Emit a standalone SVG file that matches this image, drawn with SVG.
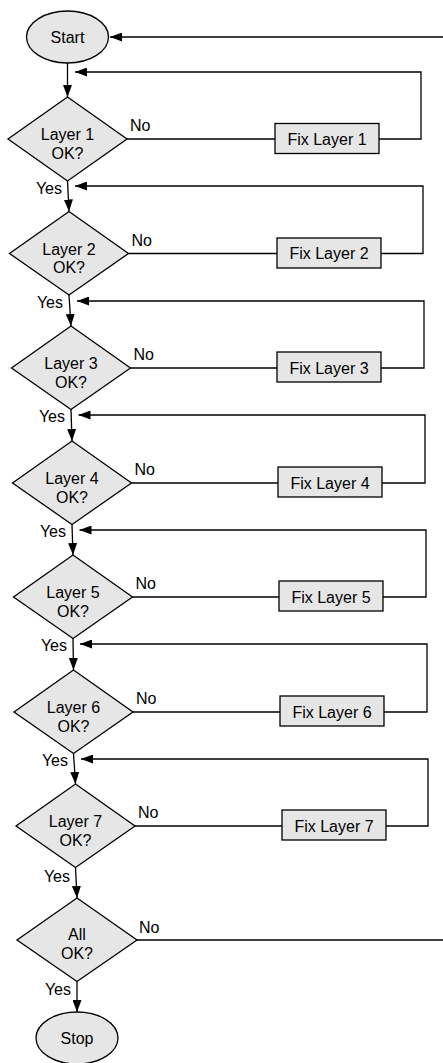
<svg xmlns="http://www.w3.org/2000/svg" width="443" height="1063" viewBox="0 0 443 1063">
<defs>
<marker id="ah" markerUnits="userSpaceOnUse" markerWidth="12" markerHeight="9" refX="12" refY="4.5" orient="auto">
<path d="M0,0 L12,4.5 L0,9 Z" fill="#000"/>
</marker>
<style>
.sh{fill:#e6e6e6;stroke:#000;stroke-width:1.3}
.ln{fill:none;stroke:#000;stroke-width:1.3}
.ar{fill:none;stroke:#000;stroke-width:1.3;marker-end:url(#ah)}
text{font-family:"Liberation Sans",Arial,Helvetica,sans-serif;font-size:16px;fill:#000}
.c{text-anchor:middle}
.e{text-anchor:end}
</style>
</defs>
<rect width="443" height="1063" fill="#fff"/>
<g id="connectors">
<path class="ar" d="M443,37 L110,37"/>
<path class="ln" d="M137,940 L443,940"/>
<path class="ar" d="M67.5,63 L67.5,97"/>
<path class="ar" d="M67.5,181 L69,211.5"/>
<path class="ar" d="M69,295 L71,326"/>
<path class="ar" d="M71,409.5 L72,441"/>
<path class="ar" d="M72,524.5 L73,555"/>
<path class="ar" d="M73,638.5 L73.5,670"/>
<path class="ar" d="M73.5,753.5 L75.5,784"/>
<path class="ar" d="M75.5,867.5 L77,898"/>
<path class="ar" d="M77,981.5 L77,1012"/>
<path class="ln" d="M127,139 L275,139"/>
<path class="ln" d="M128.5,253.5 L277,253.5"/>
<path class="ln" d="M130.5,368 L277,368"/>
<path class="ln" d="M131.5,483 L278,483"/>
<path class="ln" d="M132.5,597 L279,597"/>
<path class="ln" d="M133,712 L280,712"/>
<path class="ln" d="M135,826 L282,826"/>
<path class="ar" d="M379,139 L421,139 L421,72 L75,72"/>
<path class="ar" d="M381,253.5 L423,253.5 L423,186 L75,186"/>
<path class="ar" d="M381,368 L424,368 L424,301 L77,301"/>
<path class="ar" d="M382,483 L425,483 L425,415 L78.5,415"/>
<path class="ar" d="M383,597 L426,597 L426,530 L79.5,530"/>
<path class="ar" d="M384,712 L427,712 L427,644 L80,644"/>
<path class="ar" d="M386,826 L428,826 L428,759 L81,759"/>
<text x="130" y="131">No</text>
<text x="131.5" y="245.5">No</text>
<text x="133.5" y="360">No</text>
<text x="134.5" y="475">No</text>
<text x="135.5" y="589">No</text>
<text x="136" y="704">No</text>
<text x="138" y="818">No</text>
<text x="139" y="933">No</text>
<text class="e" x="62" y="194">Yes</text>
<text class="e" x="63" y="308">Yes</text>
<text class="e" x="65" y="422">Yes</text>
<text class="e" x="66" y="537">Yes</text>
<text class="e" x="67" y="651">Yes</text>
<text class="e" x="68" y="766">Yes</text>
<text class="e" x="70" y="882">Yes</text>
<text class="e" x="71" y="995">Yes</text>
</g>
<g id="start">
<ellipse class="sh" cx="67.5" cy="37" rx="41" ry="26"/>
<text class="c" x="67.5" y="42.5">Start</text>
</g>
<g id="layer1">
<path class="sh" d="M67.5,97 L127,139 L67.5,181 L8,139 Z"/>
<text class="c" x="67.5" y="140">Layer 1</text>
<text class="c" x="67.5" y="158.5">OK?</text>
</g>
<g id="fix1">
<rect class="sh" x="275" y="123.5" width="104" height="30"/>
<text class="c" x="327" y="144.5">Fix Layer 1</text>
</g>
<g id="layer2">
<path class="sh" d="M69,211.5 L128.5,253.5 L69,295 L9.5,253.5 Z"/>
<text class="c" x="69" y="254.5">Layer 2</text>
<text class="c" x="69" y="273">OK?</text>
</g>
<g id="fix2">
<rect class="sh" x="277" y="238" width="104" height="30"/>
<text class="c" x="329" y="259">Fix Layer 2</text>
</g>
<g id="layer3">
<path class="sh" d="M71,326 L130.5,368 L71,409.5 L11.5,368 Z"/>
<text class="c" x="71" y="369">Layer 3</text>
<text class="c" x="71" y="387.5">OK?</text>
</g>
<g id="fix3">
<rect class="sh" x="277" y="352" width="104" height="30"/>
<text class="c" x="329" y="373.5">Fix Layer 3</text>
</g>
<g id="layer4">
<path class="sh" d="M72,441 L131.5,483 L72,524.5 L12.5,483 Z"/>
<text class="c" x="72" y="484">Layer 4</text>
<text class="c" x="72" y="502.5">OK?</text>
</g>
<g id="fix4">
<rect class="sh" x="278" y="467" width="104" height="30"/>
<text class="c" x="330" y="488.5">Fix Layer 4</text>
</g>
<g id="layer5">
<path class="sh" d="M73,555 L132.5,597 L73,638.5 L13.5,597 Z"/>
<text class="c" x="73" y="598">Layer 5</text>
<text class="c" x="73" y="616.5">OK?</text>
</g>
<g id="fix5">
<rect class="sh" x="279" y="581" width="104" height="30"/>
<text class="c" x="331" y="602.5">Fix Layer 5</text>
</g>
<g id="layer6">
<path class="sh" d="M73.5,670 L133,712 L73.5,753.5 L14,712 Z"/>
<text class="c" x="73.5" y="713">Layer 6</text>
<text class="c" x="73.5" y="731.5">OK?</text>
</g>
<g id="fix6">
<rect class="sh" x="280" y="696" width="104" height="30"/>
<text class="c" x="332" y="717.5">Fix Layer 6</text>
</g>
<g id="layer7">
<path class="sh" d="M75.5,784 L135,826 L75.5,867.5 L16,826 Z"/>
<text class="c" x="75.5" y="827">Layer 7</text>
<text class="c" x="75.5" y="845.5">OK?</text>
</g>
<g id="fix7">
<rect class="sh" x="282" y="810" width="104" height="30"/>
<text class="c" x="334" y="831.5">Fix Layer 7</text>
</g>
<g id="allok">
<path class="sh" d="M77,898 L137,940 L77,981.5 L17,940 Z"/>
<text class="c" x="77" y="940">All</text>
<text class="c" x="77" y="958.5">OK?</text>
</g>
<g id="stop">
<ellipse class="sh" cx="77" cy="1038" rx="41" ry="26"/>
<text class="c" x="77" y="1043.5">Stop</text>
</g>
</svg>
